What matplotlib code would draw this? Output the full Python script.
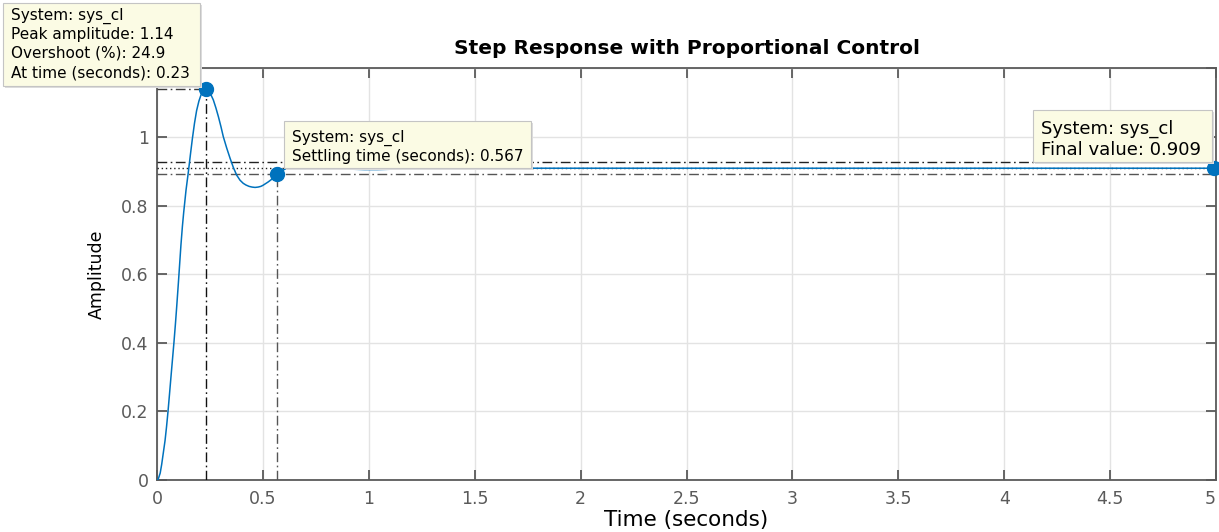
import matplotlib
matplotlib.use("Agg")
import matplotlib.pyplot as plt
from matplotlib.patches import Rectangle

# Step response of the closed loop (time in seconds, amplitude)
time_s = [0.0, 0.006, 0.015, 0.022, 0.030, 0.038, 0.045, 0.052, 0.059, 0.066,
          0.073, 0.080, 0.087, 0.093, 0.101, 0.107, 0.113, 0.120, 0.126, 0.137,
          0.148, 0.158, 0.167, 0.177, 0.187, 0.198, 0.208, 0.218, 0.23, 0.242,
          0.254, 0.266, 0.278, 0.290, 0.302, 0.313, 0.329, 0.345, 0.360, 0.376,
          0.392, 0.407, 0.420, 0.435, 0.449, 0.463, 0.477, 0.49, 0.50, 0.51,
          0.525, 0.54, 0.553, 0.567, 0.585, 0.60, 0.62, 0.64, 0.665, 0.69,
          0.715, 0.74, 0.77, 0.80, 0.84, 0.88, 0.93, 0.98, 1.04, 1.1, 1.2,
          1.3, 1.45, 1.6, 2.0, 2.5, 3.0, 3.5, 4.0, 4.5, 5.0]
amplitude = [0.0, 0.003, 0.02, 0.045, 0.08, 0.115, 0.155, 0.2, 0.25, 0.301,
             0.351, 0.401, 0.455, 0.505, 0.575, 0.63, 0.685, 0.74, 0.78, 0.845,
             0.898, 0.95, 0.995, 1.04, 1.077, 1.105, 1.123, 1.135, 1.14, 1.135,
             1.124, 1.108, 1.085, 1.059, 1.03, 1.001, 0.968, 0.938, 0.912, 0.889,
             0.874, 0.865, 0.860, 0.856, 0.854, 0.853, 0.854, 0.856, 0.859, 0.863,
             0.869, 0.876, 0.883, 0.891, 0.899, 0.905, 0.911, 0.916, 0.920, 0.922,
             0.922, 0.920, 0.917, 0.914, 0.911, 0.909, 0.906, 0.905, 0.905, 0.906, 0.907,
             0.908, 0.909, 0.909, 0.909, 0.909, 0.909, 0.909, 0.909, 0.909, 0.909]

# Response characteristics reported in the data tips
peak_amplitude = 1.14
peak_time = 0.23
overshoot_pct = 24.9
settling_time = 0.567
final_value = 0.909
settle_band = 0.02
t_end = 5.0

x_ticks = [0, 0.5, 1, 1.5, 2, 2.5, 3, 3.5, 4, 4.5, 5]
x_tick_labels = ["0", "0.5", "1", "1.5", "2", "2.5", "3", "3.5", "4", "4.5", "5"]
y_ticks = [0, 0.2, 0.4, 0.6, 0.8, 1.0, 1.2]
y_tick_labels = ["0", "0.2", "0.4", "0.6", "0.8", "1", ""]

plt.rcParams["font.family"] = ["DejaVu Sans"]

W, H = 1219, 532
fig = plt.figure(figsize=(W / 100, H / 100), dpi=100)
fig.patch.set_facecolor("white")


def fx(px):
    return px / W


def fy(py):
    return 1 - py / H


ax = fig.add_axes([fx(157), fy(480), fx(1216) - fx(157), fy(68.4) - fy(480)])

blue = "#0072BD"
axis_grey = "#5a5a5a"

# reference lines for the characteristics
dashdot = (0, (7, 2.5, 1.2, 2.5))
band_hi = final_value * (1 + settle_band)
band_lo = final_value * (1 - settle_band)
ax.plot([0, peak_time], [peak_amplitude, peak_amplitude], color="#3a3a3a",
        lw=1.0, linestyle=dashdot, zorder=3)
ax.plot([peak_time, peak_time], [0, peak_amplitude], color="#111111",
        lw=1.0, linestyle=dashdot, zorder=3)
ax.plot([0, t_end], [band_hi, band_hi], color="#222222", lw=1.0,
        linestyle=dashdot, zorder=3)
ax.plot([0, t_end], [band_lo, band_lo], color="#555555", lw=1.0,
        linestyle=dashdot, zorder=3)
ax.plot([0, t_end], [final_value, final_value], color="#222222", lw=1.0,
        linestyle=(0, (1, 2)), zorder=3)
ax.plot([settling_time, settling_time], [0, band_lo], color="#555555",
        lw=1.0, linestyle=dashdot, zorder=3)

# the response curve
ax.plot(time_s, amplitude, color=blue, lw=1.1, zorder=4)

# data tip markers
ax.plot([peak_time], [peak_amplitude], "o", color=blue, ms=10, zorder=5,
        clip_on=False)
ax.plot([settling_time], [band_lo], "o", color=blue, ms=10, zorder=5,
        clip_on=False)
ax.plot([t_end - 0.01], [final_value], "o", color=blue, ms=10, zorder=5,
        clip_on=False)

ax.set_xlim(0, t_end)
ax.set_ylim(0, 1.2)
ax.set_xticks(x_ticks)
ax.set_xticklabels(x_tick_labels)
ax.set_yticks(y_ticks)
ax.set_yticklabels(y_tick_labels)
# keep the last time label inside the figure edge
ax.get_xticklabels()[-1].set_horizontalalignment("right")
ax.grid(True, color="#e3e3e3", lw=1.0)
ax.set_axisbelow(True)
ax.tick_params(direction="in", length=7, width=1.3, colors=axis_grey,
               labelsize=12.5, top=True, right=True, pad=7)
ax.tick_params(axis="y", pad=6)
for sp in ax.spines.values():
    sp.set_color(axis_grey)
    sp.set_linewidth(1.3)

ax.set_xlabel("Time (seconds)", fontsize=15.5, color="black", va="center")
ax.xaxis.set_label_coords(0.5, (480 - 520) / 411.6)
ax.set_ylabel("Amplitude", fontsize=12.5, color="black", va="center")
ax.yaxis.set_label_coords((97 - 157) / 1059, 0.5)
ax.set_title("Step Response with Proportional Control", fontsize=14.5,
             fontweight="bold", y=(480 - 48) / 411.6, va="center", pad=0)

# data tip boxes
tip_face = "#fbfbe4"
tip_edge = "#c4c4c4"


def tip(x0, y0, x1, y1, tx, baselines, lines, size):
    fig.add_artist(Rectangle((fx(x0) + 0.0015, fy(y1) - 0.004),
                             fx(x1) - fx(x0), fy(y0) - fy(y1),
                             transform=fig.transFigure, facecolor="#dddddd",
                             edgecolor="none", zorder=9))
    fig.add_artist(Rectangle((fx(x0), fy(y1)), fx(x1) - fx(x0), fy(y0) - fy(y1),
                             transform=fig.transFigure, facecolor=tip_face,
                             edgecolor=tip_edge, lw=0.8, zorder=10))
    for by, s in zip(baselines, lines):
        fig.text(fx(tx), fy(by), s, fontsize=size, color="black",
                 ha="left", va="baseline", zorder=11)


tip(3, 3, 200, 86, 11, [20, 39, 58, 77],
    ["System: sys_cl",
     f"Peak amplitude: {peak_amplitude:.2f}",
     f"Overshoot (%): {overshoot_pct:.1f}",
     f"At time (seconds): {peak_time:.2f}"], 11)
tip(284, 121, 531, 168, 292, [142, 161],
    ["System: sys_cl",
     f"Settling time (seconds): {settling_time:.3f}"], 11)
tip(1033, 110, 1212, 162, 1041, [134, 155],
    ["System: sys_cl",
     f"Final value: {final_value:.3f}"], 13)

fig.savefig("out.png", dpi=100)
